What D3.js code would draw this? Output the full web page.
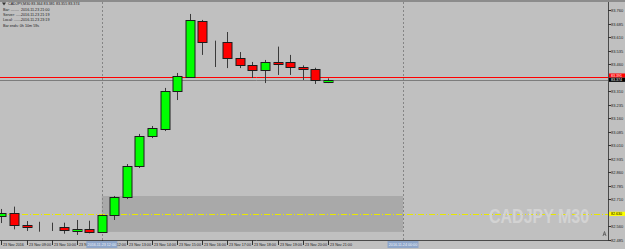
<!DOCTYPE html>
<html>
<head>
<meta charset="utf-8">
<script src="https://cdn.jsdelivr.net/npm/d3@7"></script>
<style>
  html, body { margin: 0; padding: 0; background: #c0c0c0; }
  svg { display: block; }
  text { font-family: "Liberation Sans", Arial, sans-serif; }
</style>
</head>
<body>
<script>
// CADJPY M30, 23 Nov 2016 08:00 .. 21:00 (one entry per bar)
var opens  = [82.618, 82.633, 82.570, 82.563, 82.555, 82.557, 82.539, 82.548, 82.531, 82.620, 82.723, 82.895, 83.062, 83.100,
              83.311, 83.389, 83.699, 83.588, 83.584, 83.492, 83.455, 83.427, 83.472, 83.470, 83.442, 83.431, 83.364];
var highs  = [82.657, 82.670, 82.590, 82.586, 82.581, 82.581, 82.596, 82.592, 82.626, 82.729, 82.906, 83.073, 83.117, 83.328,
              83.411, 83.738, 83.705, 83.590, 83.638, 83.527, 83.472, 83.483, 83.557, 83.511, 83.453, 83.440, 83.381];
var lows   = [82.579, 82.544, 82.535, 82.531, 82.535, 82.520, 82.513, 82.522, 82.529, 82.596, 82.712, 82.884, 83.050, 83.089,
              83.261, 83.383, 83.511, 83.444, 83.438, 83.438, 83.383, 83.355, 83.400, 83.400, 83.372, 83.350, 83.355];
var closes = [82.636, 82.566, 82.559, 82.563, 82.555, 82.539, 82.548, 82.531, 82.624, 82.722, 82.895, 83.062, 83.106, 83.311,
              83.394, 83.705, 83.583, 83.588, 83.494, 83.451, 83.427, 83.472, 83.462, 83.440, 83.431, 83.368, 83.374];

var timeLabels = ["23 Nov 2016", "23 Nov 09:00", "23 Nov 10:00", "23 Nov 11:00", "23 Nov 12:00", "23 Nov 13:00", "23 Nov 14:00",
                  "23 Nov 15:00", "23 Nov 16:00", "23 Nov 17:00", "23 Nov 18:00", "23 Nov 19:00", "23 Nov 20:00", "23 Nov 21:00"];
var priceTicks = ["83.760", "83.685", "83.610", "83.535", "83.460", "83.385", "83.310", "83.235", "83.160",
                  "83.085", "83.010", "82.935", "82.860", "82.785", "82.710", "82.635", "82.560", "82.485"];

var askPrice = 83.391, bidPrice = 83.374, levelPrice = 82.630;
var zoneBars = [8, 32], zonePrices = [82.729, 82.530];
var vlineBars = [8, 32];
var vlineLabels = ["2016.11.23 12:00", "2016.11.24 00:00"];
var infoNames  = ["Bar: ........", "Server: ......", "Local: ........", "Bar ends: 0h 10m 59s"];
var infoValues = ["2016.11.23 21:00", "2016.11.23 21:19", "2016.11.23 23:19", ""];

var width = 625, height = 249;
var plotRight = 608, plotBottom = 240;

var svg = d3.select("body").append("svg")
    .attr("width", width)
    .attr("height", height);

svg.append("rect").attr("width", width).attr("height", height).attr("fill", "#c0c0c0");
svg.append("rect").attr("width", width).attr("height", 2).attr("fill", "#8c8c8c");

var x = d3.scaleLinear().domain([0, 32]).range([1.45, 403]);
var y = d3.scaleLinear().domain([82.485, 83.760]).range([plotBottom, 10]);

var plot = svg.append("g");

// zone rectangle (background object)
plot.append("rect")
    .attr("x", x(zoneBars[0]))
    .attr("y", y(zonePrices[0]))
    .attr("width", x(zoneBars[1]) - x(zoneBars[0]))
    .attr("height", y(zonePrices[1]) - y(zonePrices[0]))
    .attr("fill", "#a9a9a9");

// vertical lines
plot.selectAll("line.vl")
    .data(vlineBars)
    .enter()
    .append("line")
    .attr("class", "vl")
    .attr("x1", function(d) { return Math.round(x(d)) + 0.5; })
    .attr("x2", function(d) { return Math.round(x(d)) + 0.5; })
    .attr("y1", 2)
    .attr("y2", plotBottom)
    .attr("stroke", "#858585")
    .attr("stroke-dasharray", "2,2");

// watermark
svg.append("g")
    .attr("transform", "translate(489,223) scale(1,1.3)")
    .append("text")
    .attr("font-size", 16)
    .attr("font-weight", "bold")
    .attr("fill", "#d3d3d3")
    .text("CADJPY M30");

// yellow level
plot.append("line")
    .attr("x1", 0).attr("x2", plotRight)
    .attr("y1", Math.round(y(levelPrice)) + 0.5)
    .attr("y2", Math.round(y(levelPrice)) + 0.5)
    .attr("stroke", "#e8e800")
    .attr("stroke-dasharray", "6,2,1,2");

// bid / ask lines
plot.append("line")
    .attr("x1", 0).attr("x2", plotRight)
    .attr("y1", Math.round(y(bidPrice)) + 0.5)
    .attr("y2", Math.round(y(bidPrice)) + 0.5)
    .attr("stroke", "#7c7c7c");
plot.append("line")
    .attr("x1", 0).attr("x2", plotRight)
    .attr("y1", Math.round(y(askPrice)) + 0.5)
    .attr("y2", Math.round(y(askPrice)) + 0.5)
    .attr("stroke", "#ff0000");

// candles
var bars = d3.range(opens.length);

plot.selectAll("line.wick")
    .data(bars)
    .enter()
    .append("line")
    .attr("class", "wick")
    .attr("x1", function(i) { return Math.round(x(i)) + 0.5; })
    .attr("x2", function(i) { return Math.round(x(i)) + 0.5; })
    .attr("y1", function(i) { return y(highs[i]); })
    .attr("y2", function(i) { return y(lows[i]); })
    .attr("stroke", "#3a3a3a");

plot.selectAll("rect.body")
    .data(bars)
    .enter()
    .append("rect")
    .attr("class", "body")
    .attr("x", function(i) { return Math.round(x(i)) - 4; })
    .attr("y", function(i) { return Math.round(y(Math.max(opens[i], closes[i]))) + 0.5; })
    .attr("width", 9)
    .attr("height", function(i) { return Math.round(Math.abs(y(opens[i]) - y(closes[i]))); })
    .attr("fill", function(i) {
        if (closes[i] > opens[i]) return "#00ff00";
        if (closes[i] < opens[i]) return "#ff0000";
        return "none";
    })
    .attr("stroke", "#1c1c1c");

// axes frame
svg.append("line")
    .attr("x1", plotRight + 0.5).attr("x2", plotRight + 0.5)
    .attr("y1", 2).attr("y2", plotBottom + 1)
    .attr("stroke", "#4a4a4a");
svg.append("line")
    .attr("x1", 0).attr("x2", plotRight + 1)
    .attr("y1", plotBottom + 0.5).attr("y2", plotBottom + 0.5)
    .attr("stroke", "#4a4a4a");

// price axis (labels hidden where a price tag sits on them)
var tagPrices = [askPrice, bidPrice, levelPrice];
var shownTicks = priceTicks.filter(function(d) {
    return tagPrices.every(function(p) { return Math.abs(y(+d) - y(p)) > 4.5; });
});
var yAxis = svg.append("g");
yAxis.selectAll("g.tick")
    .data(shownTicks)
    .enter()
    .append("g")
    .attr("class", "tick")
    .attr("transform", function(d) { return "translate(0," + (Math.round(y(+d)) + 0.5) + ")"; })
    .each(function(d) {
        var g = d3.select(this);
        g.append("line").attr("x1", plotRight).attr("x2", plotRight + 3).attr("stroke", "#333");
        g.append("text").attr("x", 611).attr("dy", "0.35em")
            .attr("font-size", 4).attr("fill", "#222").text(d);
    });

function priceTag(price, cy, fill, color) {
    svg.append("rect")
        .attr("x", plotRight + 1).attr("y", cy - 2.1)
        .attr("width", width - plotRight - 1).attr("height", 4.2)
        .attr("fill", fill);
    svg.append("text")
        .attr("x", 611).attr("y", cy).attr("dy", "0.35em")
        .attr("font-size", 3.6).attr("fill", color)
        .text(price.toFixed(3));
}
priceTag(askPrice, y(askPrice) - 1, "#ff0000", "#ffffff");
priceTag(bidPrice, y(askPrice) + 3.2, "#000000", "#ffffff");
priceTag(levelPrice, y(levelPrice), "#ffff00", "#000000");

// time axis
var xAxis = svg.append("g");
xAxis.selectAll("g.tick")
    .data(timeLabels)
    .enter()
    .append("g")
    .attr("class", "tick")
    .attr("transform", function(d, k) { return "translate(" + (Math.round(x(k * 2)) + 0.5) + ",0)"; })
    .each(function(d) {
        var g = d3.select(this);
        g.append("line").attr("y1", plotBottom).attr("y2", plotBottom + 5).attr("stroke", "#333");
        g.append("text").attr("x", 1.5).attr("y", 245.5)
            .attr("font-size", 3.7).attr("fill", "#222").text(d);
    });

vlineBars.forEach(function(b, k) {
    var cx = x(b);
    svg.append("rect")
        .attr("x", cx - 15.5).attr("y", plotBottom + 1)
        .attr("width", 31).attr("height", 7)
        .attr("fill", "#8fa6c9");
    svg.append("text")
        .attr("x", cx).attr("y", 245.5)
        .attr("text-anchor", "middle")
        .attr("font-size", 3.7).attr("fill", "#eef2fa")
        .text(vlineLabels[k]);
});

// info box
svg.append("path").attr("d", "M2,2.5 L6,2.5 L4,5.5 Z").attr("fill", "#333");
svg.append("text")
    .attr("x", 8).attr("y", 5.3)
    .attr("font-size", 3.7).attr("fill", "#222")
    .text("CADJPY,M30 " + [opens[26], highs[26], lows[26], closes[26]].map(function(v) { return v.toFixed(3); }).join(" "));
svg.selectAll("text.info")
    .data(infoNames)
    .enter()
    .append("text")
    .attr("class", "info")
    .attr("x", 3)
    .attr("y", function(d, k) { return 11 + k * 5.2; })
    .attr("font-size", 3.7)
    .attr("fill", "#222")
    .text(function(d) { return d; });
svg.selectAll("text.infoval")
    .data(infoValues)
    .enter()
    .append("text")
    .attr("class", "infoval")
    .attr("x", 21)
    .attr("y", function(d, k) { return 11 + k * 5.2; })
    .attr("font-size", 3.7)
    .attr("fill", "#222")
    .text(function(d) { return d; });

// small shift marker
svg.append("path")
    .attr("d", "M603,236 L604.5,231.5 L606,236 M603.6,234.3 L605.4,234.3")
    .attr("fill", "none").attr("stroke", "#555").attr("stroke-width", 0.8);
</script>
</body>
</html>
